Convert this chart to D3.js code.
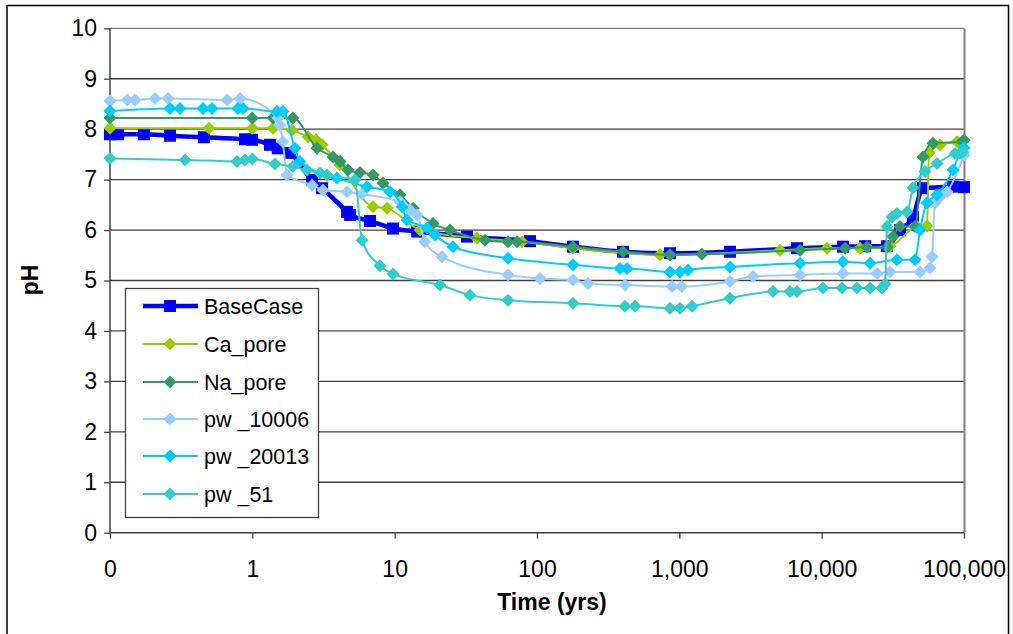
<!DOCTYPE html>
<html><head><meta charset="utf-8">
<script src="https://cdn.jsdelivr.net/npm/d3@7"></script>
<style>
body{margin:0;background:#fff;}
svg{display:block;font-family:"Liberation Sans",Arial,sans-serif;}
</style></head>
<body><svg id="chart" width="1013" height="634"></svg>
<script>
// ---- data (time in years, pH) ----
const seriesNames = ["BaseCase","Ca_pore","Na_pore","pw _10006","pw _20013","pw _51"];
const seriesColors = ["#0000FF","#99CC00","#339966","#99CCFF","#00CCFF","#33CCCC"];
const xTickValues = [0.1,1,10,100,1000,10000,100000];
const xTickLabels = ["0","1","10","100","1,000","10,000","100,000"];
const yTickValues = [0,1,2,3,4,5,6,7,8,9,10];

const baseCase = [[0.1,7.90],[0.114,7.90],[0.173,7.90],[0.264,7.87],[0.457,7.84],[0.888,7.80],[0.995,7.79],[1.33,7.69],[1.51,7.62],[1.84,7.53],[2.63,6.99],[3.09,6.83],[4.63,6.36],[4.86,6.30],[6.71,6.18],[9.73,6.03],[14.4,5.97],[32.2,5.87],[89.3,5.78],[179,5.67],[402,5.57],[860,5.54],[2270,5.57],[6710,5.64],[14100,5.67],[20200,5.68],[28800,5.68],[35500,6.00],[43800,6.26],[51500,6.83],[83700,6.86],[100000,6.85]];
const caPore = [[0.1,8.02],[0.496,8.02],[1.0,8.02],[1.40,8.02],[1.90,7.98],[2.46,7.85],[2.80,7.79],[3.09,7.69],[4.13,7.29],[7.05,6.46],[8.84,6.43],[15.1,6.00],[37.9,5.84],[78.5,5.77],[179,5.64],[731,5.51],[5100,5.60],[10900,5.64],[18600,5.64],[30200,5.68],[46800,6.07],[55000,6.08],[56800,7.53],[67900,7.69],[89400,7.75],[100000,7.78]];
const naPore = [[0.1,8.22],[1.0,8.22],[1.40,8.22],[1.93,8.22],[2.85,7.62],[3.69,7.45],[4.13,7.36],[4.70,7.19],[5.71,7.14],[7.05,7.09],[8.28,6.93],[10.9,6.70],[13.5,6.43],[18.6,6.13],[24.5,6.00],[43.1,5.80],[62.6,5.77],[72.4,5.77],[179,5.67],[402,5.57],[860,5.51],[1440,5.52],[7050,5.60],[14600,5.64],[20800,5.66],[28800,5.66],[31700,5.87],[35500,6.07],[45300,6.07],[51500,7.45],[60500,7.72],[96800,7.75],[100000,7.78]];
const pw10006 = [[0.1,8.56],[0.132,8.58],[0.150,8.58],[0.207,8.61],[0.256,8.61],[0.664,8.58],[0.819,8.61],[1.51,8.22],[1.56,8.08],[1.64,7.75],[1.75,7.09],[2.63,6.89],[3.14,6.79],[4.63,6.76],[5.90,6.71],[10.9,6.56],[12.8,6.40],[14.4,6.30],[16.3,5.77],[21.5,5.47],[62.6,5.11],[105,5.04],[179,5.01],[228,4.94],[415,4.91],[889,4.88],[1040,4.88],[2270,4.98],[3300,5.08],[7050,5.11],[14100,5.14],[24500,5.14],[30200,5.17],[49100,5.17],[57700,5.25],[59600,5.47],[62600,6.54],[67900,6.66],[76000,6.76],[100000,7.49]];
const pw20013 = [[0.1,8.36],[0.264,8.41],[0.310,8.41],[0.450,8.41],[0.521,8.41],[0.793,8.41],[0.860,8.41],[1.49,8.35],[1.64,8.35],[1.99,7.62],[2.16,7.36],[3.93,7.03],[6.39,6.86],[9.27,6.76],[11.3,6.46],[12.2,6.20],[16.9,6.04],[19.2,5.90],[25.7,5.67],[62.6,5.44],[179,5.31],[383,5.24],[429,5.24],[860,5.17],[1010,5.17],[1150,5.21],[2270,5.27],[7050,5.34],[14100,5.37],[21900,5.34],[33800,5.41],[45300,5.41],[49100,6.00],[55000,6.54],[64600,6.70],[83700,7.19],[93800,7.53],[100000,7.63]];
const pw51 = [[0.1,7.42],[0.337,7.39],[0.780,7.36],[0.888,7.39],[1.0,7.41],[1.44,7.31],[1.93,7.26],[2.42,7.19],[2.99,7.13],[3.35,7.09],[5.26,6.99],[5.90,5.80],[7.89,5.29],[9.73,5.13],[20.8,4.91],[33.8,4.71],[62.6,4.61],[179,4.55],[415,4.49],[488,4.49],[860,4.45],[1010,4.45],[1230,4.49],[2270,4.65],[4550,4.78],[5990,4.78],[6710,4.78],[10200,4.85],[13900,4.85],[17700,4.85],[21900,4.85],[26500,4.85],[27900,4.93],[28800,6.07],[31200,6.26],[33800,6.33],[39800,6.36],[43800,6.84],[53200,7.16],[64600,7.32],[86500,7.52],[98400,7.55]];

const allSeries = [baseCase, caPore, naPore, pw10006, pw20013, pw51];

// ---- layout ----
const svg = d3.select("#chart");
const X0 = 110, X1 = 964, Y0 = 532.7, Y1 = 28.3;
const x = d3.scaleLog().domain([0.1,100000]).range([X0,X1]);
const y = d3.scaleLinear().domain([0,10]).range([Y0,Y1]);
const FONT = "'Liberation Sans',Arial,sans-serif";

// outer border
svg.append("rect").attr("x",7).attr("y",5.5).attr("width",1001.5).attr("height",640)
  .attr("fill","#fff").attr("stroke","#000").attr("stroke-width",1.5);

// gridlines
svg.append("g").selectAll("line").data(yTickValues.filter(v=>v>0)).join("line")
  .attr("x1",X0).attr("x2",X1).attr("y1",d=>y(d)).attr("y2",d=>y(d))
  .attr("stroke",d=>d===10?"#808080":"#404040").attr("stroke-width",1.3);
// right plot border
svg.append("line").attr("x1",X1+0.5).attr("x2",X1+0.5).attr("y1",Y1).attr("y2",Y0)
  .attr("stroke","#808080").attr("stroke-width",2);

// axes
const yAxis = d3.axisLeft(y).tickValues(yTickValues).tickSize(6).tickPadding(7).tickFormat(d3.format("d"));
const gy = svg.append("g").attr("transform",`translate(${X0},0)`).call(yAxis);
const xAxis = d3.axisBottom(x).tickValues(xTickValues).tickSize(6).tickPadding(22)
  .tickFormat((d,i)=>xTickLabels[i]);
const gx = svg.append("g").attr("transform",`translate(0,${Y0})`).call(xAxis);
[gx,gy].forEach(g=>{
  g.select(".domain").attr("stroke","#404040").attr("stroke-width",1.5);
  g.selectAll(".tick line").attr("stroke","#404040").attr("stroke-width",1.3);
  g.selectAll(".tick text").attr("fill","#000").style("font-size","23px").style("font-family",FONT);
});
gx.select(".domain").attr("d",`M${X0},0H${X1}`);
gy.select(".domain").attr("d",`M0,${Y0}V${Y1}`);

// axis titles
svg.append("text").attr("x",552).attr("y",610).attr("text-anchor","middle")
  .style("font-size","23px").style("font-weight","bold").text("Time (yrs)");
svg.append("text").attr("transform","translate(38,280) rotate(-90)").attr("text-anchor","middle")
  .style("font-size","23px").style("font-weight","bold").text("pH");

// series
const line = d3.line().x(d=>x(d[0])).y(d=>y(d[1])).curve(d3.curveMonotoneX);
const diamond = s => `M0,${-s}L${s},0L0,${s}L${-s},0Z`;
allSeries.forEach((data,i)=>{
  const g = svg.append("g");
  const c = seriesColors[i];
  g.append("path").datum(data).attr("d",line).attr("fill","none").attr("stroke",c)
    .attr("stroke-width", i===0?4.5:2).attr("stroke-linejoin","round");
  if(i===0){
    g.selectAll("rect").data(data).join("rect")
      .attr("x",d=>x(d[0])-6).attr("y",d=>y(d[1])-6).attr("width",12).attr("height",12).attr("fill",c);
  } else {
    g.selectAll("path.m").data(data).join("path").attr("class","m")
      .attr("transform",d=>`translate(${x(d[0])},${y(d[1])})`).attr("d",diamond(6.5)).attr("fill",c);
  }
});

// legend
const lg = svg.append("g");
lg.append("rect").attr("x",125.5).attr("y",288.5).attr("width",193).attr("height",229)
  .attr("fill","#fff").attr("stroke","#404040").attr("stroke-width",1.3);
const legendY = [306,344,382,419,456,494];
seriesNames.forEach((n,i)=>{
  const yy = legendY[i], c = seriesColors[i];
  lg.append("line").attr("x1",143).attr("x2",198).attr("y1",yy).attr("y2",yy)
    .attr("stroke",c).attr("stroke-width",i===0?4.5:2);
  if(i===0) lg.append("rect").attr("x",164).attr("y",yy-6).attr("width",12).attr("height",12).attr("fill",c);
  else lg.append("path").attr("transform",`translate(170,${yy})`).attr("d",diamond(6.5)).attr("fill",c);
  lg.append("text").attr("x",204).attr("y",yy+7.5).style("font-size","21.5px").text(n);
});
</script></body></html>
